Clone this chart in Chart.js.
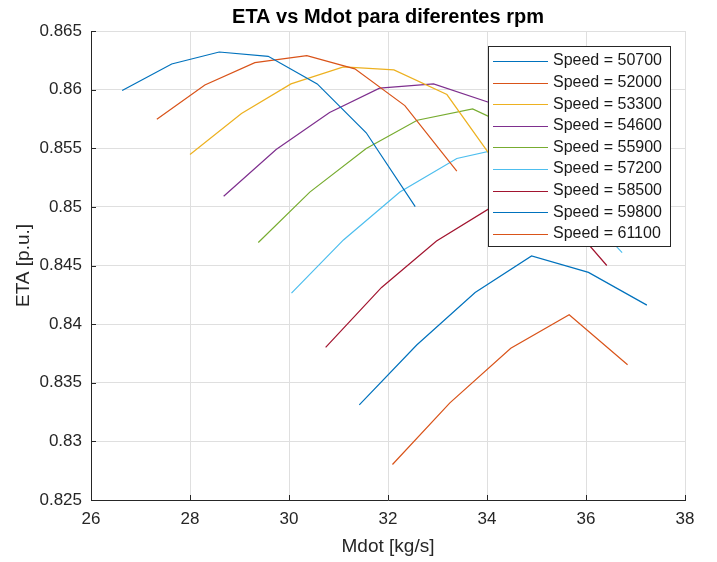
<!DOCTYPE html>
<html>
<head>
<meta charset="utf-8">
<script src="https://cdn.jsdelivr.net/npm/chart.js@4.4.0/dist/chart.umd.min.js"></script>
<style>
  html, body { margin: 0; padding: 0; background: #fff; }
  #wrap { width: 717px; height: 562px; }
</style>
</head>
<body>
<div id="wrap"><canvas id="etaChart" width="717" height="562"></canvas></div>
<script>
// velocidades (rpm) y curvas ETA vs Mdot
const speeds = [50700, 52000, 53300, 54600, 55900, 57200, 58500, 59800, 61100];

const mdot50700 = [26.63, 27.63, 28.59, 29.58, 30.57, 31.56, 32.55];
const eta50700  = [0.85992, 0.86219, 0.86321, 0.86284, 0.86049, 0.85632, 0.85002];

const mdot52000 = [27.33, 28.30, 29.31, 30.36, 31.33, 32.34, 33.39];
const eta52000  = [0.85748, 0.86040, 0.86230, 0.86290, 0.86177, 0.85864, 0.85305];

const mdot53300 = [28.00, 29.04, 30.04, 31.10, 32.12, 33.19, 34.25];
const eta53300  = [0.85447, 0.85796, 0.86049, 0.86194, 0.86168, 0.85958, 0.85330];

const mdot54600 = [28.68, 29.74, 30.82, 31.83, 32.92, 34.03, 35.10];
const eta54600  = [0.85090, 0.85489, 0.85805, 0.86013, 0.86049, 0.85892, 0.85550];

const mdot55900 = [29.38, 30.42, 31.56, 32.59, 33.71, 34.85, 35.95];
const eta55900  = [0.84696, 0.85126, 0.85498, 0.85739, 0.85836, 0.85610, 0.85250];

const mdot57200 = [30.05, 31.10, 32.24, 33.39, 34.55, 35.65, 36.73];
const eta57200  = [0.84264, 0.84718, 0.85126, 0.85413, 0.85523, 0.85100, 0.84610];

const mdot58500 = [30.74, 31.87, 32.98, 34.10, 35.25, 36.42];
const eta58500  = [0.83802, 0.84313, 0.84709, 0.85000, 0.85070, 0.84500];

const mdot59800 = [31.42, 32.58, 33.76, 34.90, 36.05, 37.23];
const eta59800  = [0.83311, 0.83822, 0.84270, 0.84582, 0.84441, 0.84162];

const mdot61100 = [32.09, 33.25, 34.48, 35.66, 36.84];
const eta61100  = [0.82803, 0.83328, 0.83794, 0.84080, 0.83654];

const xTickValues = [26, 28, 30, 32, 34, 36, 38];
const yTickValues = [0.825, 0.83, 0.835, 0.84, 0.845, 0.85, 0.855, 0.86, 0.865];

const lineColors = ["#0072BD", "#D95319", "#EDB120", "#7E2F8E", "#77AC30",
                    "#4DBEEE", "#A2142F", "#0072BD", "#D95319"];

const allMdot = [mdot50700, mdot52000, mdot53300, mdot54600, mdot55900,
                 mdot57200, mdot58500, mdot59800, mdot61100];
const allEta = [eta50700, eta52000, eta53300, eta54600, eta55900,
                eta57200, eta58500, eta59800, eta61100];

const FONT = "'Liberation Sans', Arial, Helvetica, sans-serif";
const AXIS_COLOR = "#262626";

const datasets = speeds.map((s, i) => ({
  label: `Speed = ${s}`,
  data: allMdot[i].map((x, k) => ({ x: x, y: allEta[i][k] })),
  borderColor: lineColors[i],
  backgroundColor: lineColors[i],
  borderWidth: 1.2,
  pointRadius: 0,
  tension: 0,
  fill: false
}));

// titulo arriba, centrado sobre el area del grafico
const titlePlugin = {
  id: "matTitle",
  afterDraw(chart) {
    const { ctx, chartArea } = chart;
    ctx.save();
    ctx.font = `bold 20px ${FONT}`;
    ctx.fillStyle = "#000";
    ctx.textAlign = "center";
    ctx.textBaseline = "middle";
    ctx.fillText("ETA vs Mdot para diferentes rpm", (chartArea.left + chartArea.right) / 2, 17);
    ctx.restore();
  }
};

// marcas de ticks hacia adentro, estilo MATLAB
const innerTicks = {
  id: "innerTicks",
  afterDraw(chart) {
    const { ctx, chartArea, scales } = chart;
    ctx.save();
    ctx.strokeStyle = AXIS_COLOR;
    ctx.lineWidth = 1;
    ctx.beginPath();
    scales.y.ticks.forEach(t => {
      const py = Math.round(scales.y.getPixelForValue(t.value)) + 0.5;
      ctx.moveTo(chartArea.left, py);
      ctx.lineTo(chartArea.left + 5, py);
    });
    scales.x.ticks.forEach(t => {
      const px = Math.round(scales.x.getPixelForValue(t.value)) + 0.5;
      ctx.moveTo(px, chartArea.bottom);
      ctx.lineTo(px, chartArea.bottom - 5);
    });
    ctx.stroke();
    ctx.restore();
  }
};

// leyenda opaca dentro del area, encima de las curvas
const legendBox = {
  id: "legendBox",
  afterDatasetsDraw(chart) {
    const { ctx } = chart;
    const left = 488.5, top = 46.5, w = 182, h = 200;
    ctx.save();
    ctx.fillStyle = "#fff";
    ctx.fillRect(left, top, w, h);
    ctx.strokeStyle = AXIS_COLOR;
    ctx.lineWidth = 1;
    ctx.strokeRect(left, top, w, h);
    ctx.font = `16px ${FONT}`;
    ctx.textAlign = "left";
    ctx.textBaseline = "middle";
    chart.data.datasets.forEach((ds, i) => {
      const cy = 61 + i * 21.6;
      ctx.strokeStyle = ds.borderColor;
      ctx.beginPath();
      ctx.moveTo(493, Math.round(cy) + 0.5);
      ctx.lineTo(548, Math.round(cy) + 0.5);
      ctx.stroke();
      ctx.fillStyle = "#1a1a1a";
      ctx.fillText(ds.label, 553, cy);
    });
    ctx.restore();
  }
};

new Chart(document.getElementById("etaChart"), {
  type: "line",
  data: { datasets: datasets },
  options: {
    responsive: false,
    animation: false,
    devicePixelRatio: 1,
    layout: { padding: { top: 31, right: 32, left: 0, bottom: 0 } },
    plugins: {
      legend: { display: false },
      title: { display: false },
      tooltip: { enabled: false }
    },
    scales: {
      x: {
        type: "linear",
        min: 26,
        max: 38,
        afterBuildTicks: scale => { scale.ticks = xTickValues.map(v => ({ value: v })); },
        afterFit: scale => { scale.height = 62; },
        grid: { color: "#dfdfdf", drawTicks: false },
        border: { color: AXIS_COLOR, width: 1 },
        ticks: { color: AXIS_COLOR, padding: 9, font: { family: FONT, size: 17 }, maxRotation: 0 },
        title: {
          display: true,
          text: "Mdot [kg/s]",
          color: AXIS_COLOR,
          font: { family: FONT, size: 19 },
          padding: { top: 0, bottom: 4 }
        }
      },
      y: {
        type: "linear",
        min: 0.825,
        max: 0.865,
        afterBuildTicks: scale => { scale.ticks = yTickValues.map(v => ({ value: v })); },
        afterFit: scale => { scale.width = 91; },
        grid: { color: "#dfdfdf", drawTicks: false },
        border: { color: AXIS_COLOR, width: 1 },
        ticks: {
          color: AXIS_COLOR,
          padding: 9,
          font: { family: FONT, size: 17 },
          callback: v => String(parseFloat(Number(v).toFixed(3)))
        },
        title: {
          display: true,
          text: "ETA [p.u.]",
          color: AXIS_COLOR,
          font: { family: FONT, size: 19 },
          padding: { top: 12, bottom: 0 }
        }
      }
    }
  },
  plugins: [titlePlugin, innerTicks, legendBox]
});
</script>
</body>
</html>
